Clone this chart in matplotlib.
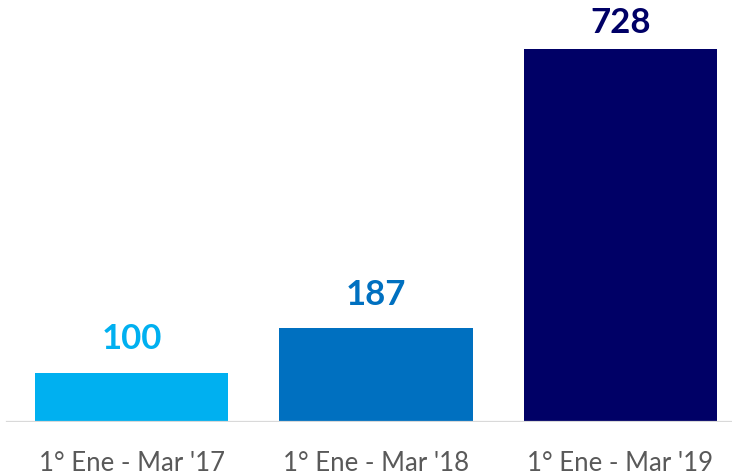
import matplotlib.pyplot as plt

# Quarterly values (index, Ene-Mar)
categories = ["1° Ene - Mar '17", "1° Ene - Mar '18", "1° Ene - Mar '19"]
values = [100, 187, 728]
colors = ["#00B0F0", "#0070C0", "#000066"]

plt.rcParams['font.family'] = ['Lato', 'DejaVu Sans']

fig = plt.figure(figsize=(7.32, 4.75), dpi=100)
ax = fig.add_axes([0, 0.1116, 1, 0.8884])

ymax = 819
x = range(len(values))
bars = ax.bar(x, values, width=0.79, color=colors, bottom=-4, zorder=2)
ax.axhline(0, color="#D9D9D9", linewidth=1.6, zorder=3, xmin=0.0096)

# labels sit above the bar, but are kept inside the plot area (like Excel does)
gap = 41
label_top = ymax - 64
for xi, v, c in zip(x, values, colors):
    ax.text(xi, min(v + gap, label_top), str(v), ha="center", va="baseline",
            fontsize=25, fontweight="bold", color=c)

ax.set_xlim(-0.538, 2.456)
ax.set_ylim(0, ymax)
ax.set_xticks(list(x))
ax.set_xticklabels(categories, fontsize=18.5, color="#595959")
ax.tick_params(axis="x", length=0, pad=21)
ax.set_yticks([])
for s in ax.spines.values():
    s.set_visible(False)

fig.savefig("out.png", dpi=100)
